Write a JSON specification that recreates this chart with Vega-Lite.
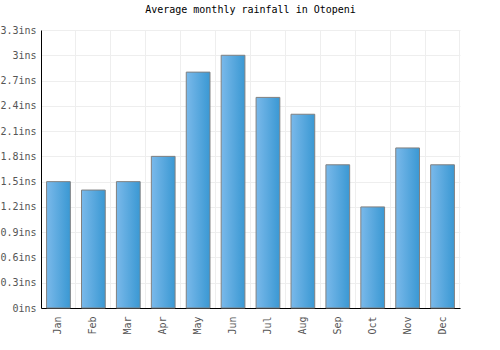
{
  "$schema": "https://vega.github.io/schema/vega-lite/v6.json",
  "autosize": {"type": "none"},
  "width": 419,
  "height": 278,
  "padding": {"left": 41, "top": 30, "right": 40, "bottom": 42},
  "background": "white",
  "title": {
    "text": "Average monthly rainfall in Otopeni",
    "font": "DejaVu Sans Mono",
    "fontSize": 10,
    "fontWeight": "normal",
    "color": "#000000",
    "anchor": "middle",
    "offset": 10
  },
  "config": {
    "view": {"stroke": null},
    "axis": {
      "labelFont": "DejaVu Sans Mono",
      "labelFontSize": 10,
      "labelColor": "#555555",
      "gridColor": "#eeeeee",
      "gridWidth": 1,
      "domain": true,
      "domainColor": "#000000",
      "domainWidth": 1,
      "title": null
    }
  },
  "data": {
    "values": [
      {"month": "Jan", "rain": 1.5},
      {"month": "Feb", "rain": 1.4},
      {"month": "Mar", "rain": 1.5},
      {"month": "Apr", "rain": 1.8},
      {"month": "May", "rain": 2.8},
      {"month": "Jun", "rain": 3.0},
      {"month": "Jul", "rain": 2.5},
      {"month": "Aug", "rain": 2.3},
      {"month": "Sep", "rain": 1.7},
      {"month": "Oct", "rain": 1.2},
      {"month": "Nov", "rain": 1.9},
      {"month": "Dec", "rain": 1.7}
    ]
  },
  "encoding": {
    "y": {
      "field": "rain",
      "type": "quantitative",
      "scale": {"domain": [0, 3.3], "nice": false},
      "axis": {
        "values": [0, 0.3, 0.6, 0.9, 1.2, 1.5, 1.8, 2.1, 2.4, 2.7, 3.0, 3.3],
        "labelExpr": "format(datum.value, '~g') + 'ins'",
        "ticks": false,
        "labelPadding": 5,
        "grid": true
      }
    }
  },
  "layer": [
    {
      "mark": {"type": "bar", "opacity": 0},
      "encoding": {
        "x": {
          "field": "month",
          "type": "nominal",
          "sort": null,
          "scale": {"paddingInner": 0.32, "paddingOuter": 0.16},
          "axis": {
            "orient": "top",
            "labels": false,
            "domain": false,
            "ticks": false,
            "grid": true,
            "bandPosition": 1.235,
            "gridOpacity": {"condition": {"test": "datum.value === 'Dec'", "value": 1}, "value": 0}
          }
        }
      }
    },
    {
      "mark": {
        "type": "bar",
        "stroke": "#808080",
        "strokeWidth": 1,
        "color": {
          "gradient": "linear",
          "x1": 0, "x2": 1, "y1": 0, "y2": 0,
          "stops": [
            {"offset": 0, "color": "#7ab9ea"},
            {"offset": 1, "color": "#3a98d3"}
          ]
        }
      },
      "encoding": {
        "x": {
          "field": "month",
          "type": "nominal",
          "sort": null,
          "scale": {"paddingInner": 0.32, "paddingOuter": 0.16},
          "axis": {
            "orient": "bottom",
            "labelAngle": -90,
            "bandPosition": -0.235,
            "grid": true,
            "gridOpacity": {"condition": {"test": "datum.value === 'Jan'", "value": 0}, "value": 1},
            "ticks": false,
            "labelPadding": 8,
            "labelBaseline": "middle",
            "labelAlign": "right"
          }
        }
      }
    }
  ],
  "resolve": {"axis": {"x": "independent"}}
}
